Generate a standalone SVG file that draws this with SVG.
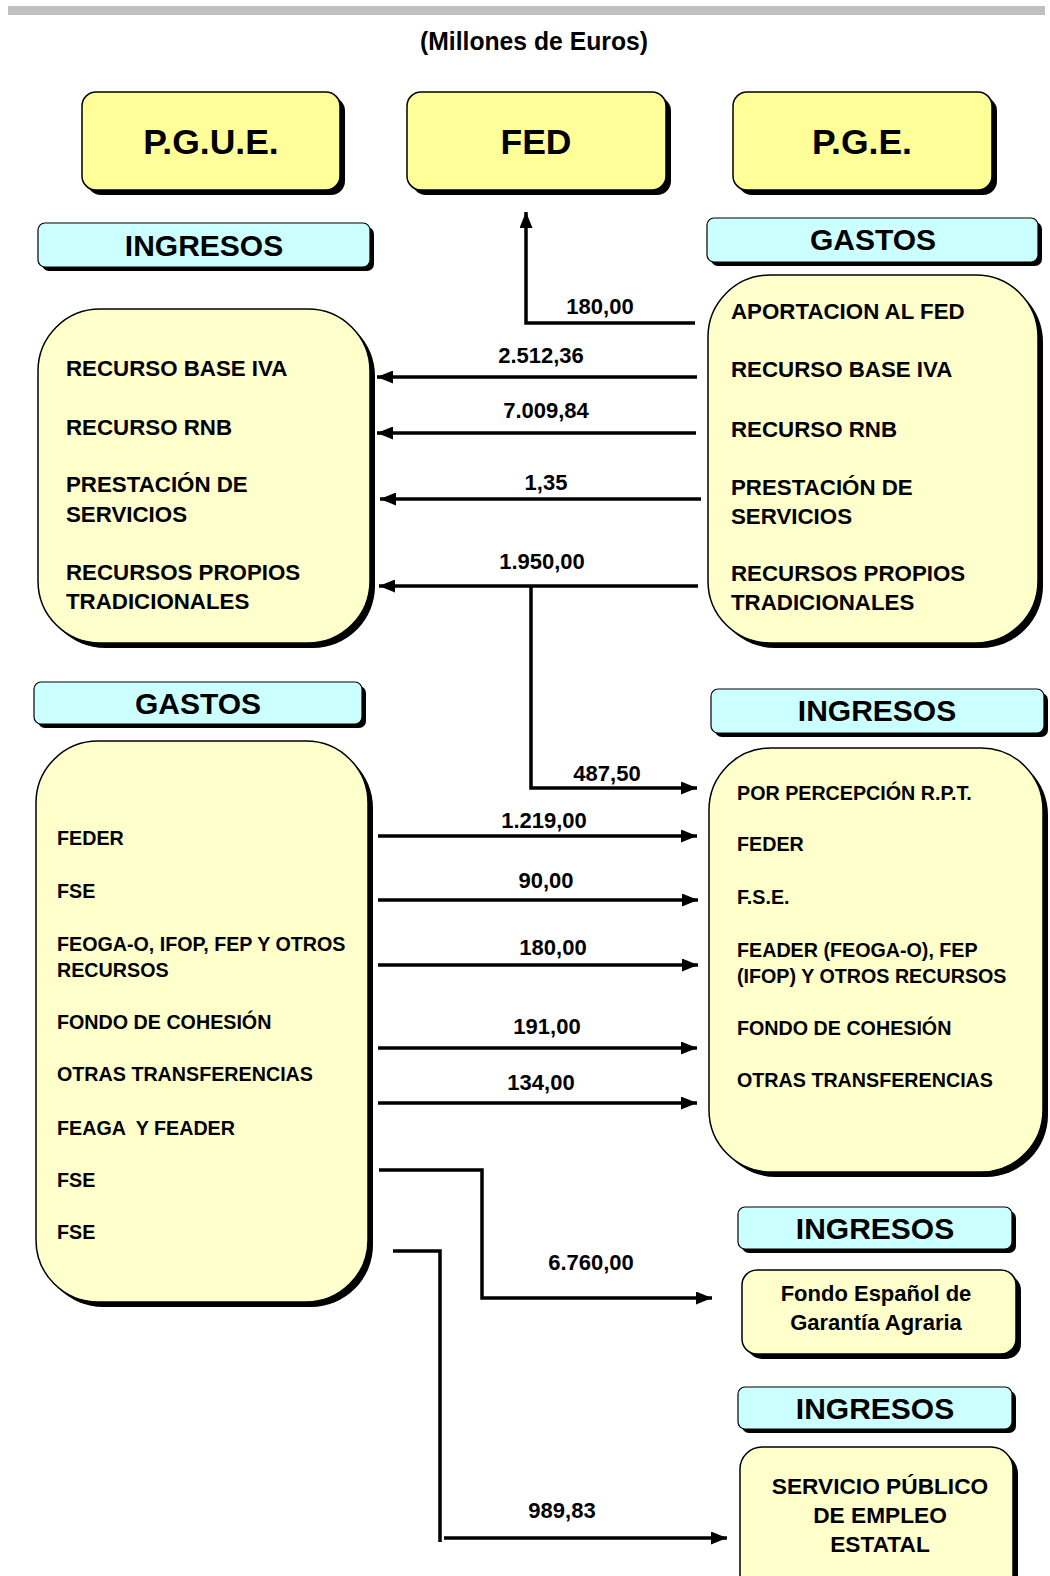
<svg xmlns="http://www.w3.org/2000/svg" width="1050" height="1576" viewBox="0 0 1050 1576">
<style>
text{font-family:"Liberation Sans",Arial,sans-serif;font-weight:bold;fill:#000}
.sh{fill:#000}
.top{fill:#FFFF99;stroke:#000;stroke-width:1.5}
.body{fill:#FFFFCC;stroke:#000;stroke-width:1.5}
.hdr{fill:#CCFFFF;stroke:#000;stroke-width:1.2}
.ht{font-size:30px;text-anchor:middle}
.tt{font-size:35.5px;text-anchor:middle}
.it{font-size:22.3px}
.st{font-size:19.7px}
.lb{font-size:22px;text-anchor:middle}
.bx{font-size:22.7px;text-anchor:middle}
.cn{fill:none;stroke:#000;stroke-width:3.5}
</style>
<defs>
<marker id="ah" markerUnits="userSpaceOnUse" markerWidth="16" markerHeight="13" refX="16" refY="6.5" orient="auto">
<path d="M0,0 L16,6.5 L0,13 z" fill="#000"/>
</marker>
</defs>
<rect x="8" y="6" width="1037" height="9" fill="#C0C0C0"/>
<text x="534" y="50" font-size="25" text-anchor="middle" textLength="228" lengthAdjust="spacingAndGlyphs">(Millones de Euros)</text>

<g id="pgue">
<rect class="sh" x="87" y="97" width="258" height="98" rx="14"/>
<rect class="top" x="82" y="92" width="258" height="98" rx="14"/>
<text class="tt" x="211" y="154">P.G.U.E.</text>
</g>
<g id="fed">
<rect class="sh" x="412" y="97" width="259" height="98" rx="14"/>
<rect class="top" x="407" y="92" width="259" height="98" rx="14"/>
<text class="tt" x="536" y="154">FED</text>
</g>
<g id="pge">
<rect class="sh" x="738" y="97" width="259" height="98" rx="14"/>
<rect class="top" x="733" y="92" width="259" height="98" rx="14"/>
<text class="tt" x="862" y="154">P.G.E.</text>
</g>

<g id="hdr-ingresos-pgue">
<rect class="sh" x="42" y="227" width="332" height="44" rx="7"/>
<rect class="hdr" x="38" y="223" width="332" height="44" rx="7"/>
<text class="ht" x="204" y="256">INGRESOS</text>
</g>
<g id="hdr-gastos-pge">
<rect class="sh" x="711" y="222" width="331" height="44" rx="7"/>
<rect class="hdr" x="707" y="218" width="331" height="44" rx="7"/>
<text class="ht" x="873" y="250">GASTOS</text>
</g>

<g id="ingresos-pgue">
<rect class="sh" x="43" y="314" width="332" height="334" rx="62"/>
<rect class="body" x="38" y="309" width="332" height="334" rx="62"/>
<text class="it" x="66" y="376">RECURSO BASE IVA</text>
<text class="it" x="66" y="435">RECURSO RNB</text>
<text class="it" x="66" y="492">PRESTACIÓN DE</text>
<text class="it" x="66" y="522">SERVICIOS</text>
<text class="it" x="66" y="580">RECURSOS PROPIOS</text>
<text class="it" x="66" y="609">TRADICIONALES</text>
</g>
<g id="gastos-pge">
<rect class="sh" x="713" y="280" width="330" height="368" rx="62"/>
<rect class="body" x="708" y="275" width="330" height="368" rx="62"/>
<text class="it" x="731" y="319">APORTACION AL FED</text>
<text class="it" x="731" y="377">RECURSO BASE IVA</text>
<text class="it" x="731" y="437">RECURSO RNB</text>
<text class="it" x="731" y="495">PRESTACIÓN DE</text>
<text class="it" x="731" y="524">SERVICIOS</text>
<text class="it" x="731" y="581">RECURSOS PROPIOS</text>
<text class="it" x="731" y="610">TRADICIONALES</text>
</g>

<g id="hdr-gastos-pgue">
<rect class="sh" x="38" y="686" width="328" height="42" rx="7"/>
<rect class="hdr" x="34" y="682" width="328" height="42" rx="7"/>
<text class="ht" x="198" y="714">GASTOS</text>
</g>
<g id="hdr-ingresos-pge">
<rect class="sh" x="715" y="693" width="333" height="44" rx="7"/>
<rect class="hdr" x="711" y="689" width="333" height="44" rx="7"/>
<text class="ht" x="877" y="721">INGRESOS</text>
</g>

<g id="gastos-pgue">
<rect class="sh" x="41" y="746" width="332" height="561" rx="62"/>
<rect class="body" x="36" y="741" width="332" height="561" rx="62"/>
<text class="st" x="57" y="845">FEDER</text>
<text class="st" x="57" y="898">FSE</text>
<text class="st" x="57" y="951">FEOGA-O, IFOP, FEP Y OTROS</text>
<text class="st" x="57" y="977">RECURSOS</text>
<text class="st" x="57" y="1029">FONDO DE COHESIÓN</text>
<text class="st" x="57" y="1081">OTRAS TRANSFERENCIAS</text>
<text class="st" x="57" y="1135" xml:space="preserve">FEAGA  Y FEADER</text>
<text class="st" x="57" y="1187">FSE</text>
<text class="st" x="57" y="1239">FSE</text>
</g>
<g id="ingresos-pge">
<rect class="sh" x="714" y="753" width="334" height="424" rx="62"/>
<rect class="body" x="709" y="748" width="334" height="424" rx="62"/>
<text class="st" x="737" y="800">POR PERCEPCIÓN R.P.T.</text>
<text class="st" x="737" y="851">FEDER</text>
<text class="st" x="737" y="904">F.S.E.</text>
<text class="st" x="737" y="957">FEADER (FEOGA-O), FEP</text>
<text class="st" x="737" y="983">(IFOP) Y OTROS RECURSOS</text>
<text class="st" x="737" y="1035">FONDO DE COHESIÓN</text>
<text class="st" x="737" y="1087">OTRAS TRANSFERENCIAS</text>
</g>

<g id="hdr-ingresos-fega">
<rect class="sh" x="742" y="1211" width="274" height="42" rx="7"/>
<rect class="hdr" x="738" y="1207" width="274" height="42" rx="7"/>
<text class="ht" x="875" y="1239">INGRESOS</text>
</g>
<g id="fega">
<rect class="sh" x="747" y="1275" width="274" height="84" rx="15"/>
<rect class="body" x="742" y="1270" width="274" height="84" rx="15"/>
<text class="lb" x="876" y="1301" font-size="22.7">Fondo Español de</text>
<text class="lb" x="876" y="1330" font-size="22.7">Garantía Agraria</text>
</g>
<g id="hdr-ingresos-sepe">
<rect class="sh" x="742" y="1391" width="274" height="42" rx="7"/>
<rect class="hdr" x="738" y="1387" width="274" height="42" rx="7"/>
<text class="ht" x="875" y="1419">INGRESOS</text>
</g>
<g id="sepe">
<rect class="sh" x="745" y="1452" width="273" height="150" rx="22"/>
<rect class="body" x="740" y="1447" width="273" height="150" rx="22"/>
<text class="bx" x="880" y="1494">SERVICIO PÚBLICO</text>
<text class="bx" x="880" y="1523">DE EMPLEO</text>
<text class="bx" x="880" y="1552">ESTATAL</text>
</g>

<g id="connectors">
<path class="cn" d="M695,323 H526 V212" marker-end="url(#ah)"/>
<text class="lb" x="600" y="314">180,00</text>
<path class="cn" d="M697,377 H377" marker-end="url(#ah)"/>
<text class="lb" x="541" y="363">2.512,36</text>
<path class="cn" d="M696,433 H377" marker-end="url(#ah)"/>
<text class="lb" x="546" y="418">7.009,84</text>
<path class="cn" d="M701,499 H380" marker-end="url(#ah)"/>
<text class="lb" x="546" y="490">1,35</text>
<path class="cn" d="M698,586 H379" marker-end="url(#ah)"/>
<text class="lb" x="542" y="569">1.950,00</text>
<path class="cn" d="M531,586 V788 H697" marker-end="url(#ah)"/>
<text class="lb" x="607" y="781">487,50</text>
<path class="cn" d="M378,836 H697" marker-end="url(#ah)"/>
<text class="lb" x="544" y="828">1.219,00</text>
<path class="cn" d="M378,900 H698" marker-end="url(#ah)"/>
<text class="lb" x="546" y="888">90,00</text>
<path class="cn" d="M378,965 H698" marker-end="url(#ah)"/>
<text class="lb" x="553" y="955">180,00</text>
<path class="cn" d="M378,1048 H697" marker-end="url(#ah)"/>
<text class="lb" x="547" y="1034">191,00</text>
<path class="cn" d="M378,1103 H697" marker-end="url(#ah)"/>
<text class="lb" x="541" y="1090">134,00</text>
<path class="cn" d="M379,1170 H482 V1298 H712" marker-end="url(#ah)"/>
<text class="lb" x="591" y="1270">6.760,00</text>
<path class="cn" d="M393,1251 H440 V1542"/>
<path class="cn" d="M444,1538 H727" marker-end="url(#ah)"/>
<text class="lb" x="562" y="1518">989,83</text>
</g>
</svg>
